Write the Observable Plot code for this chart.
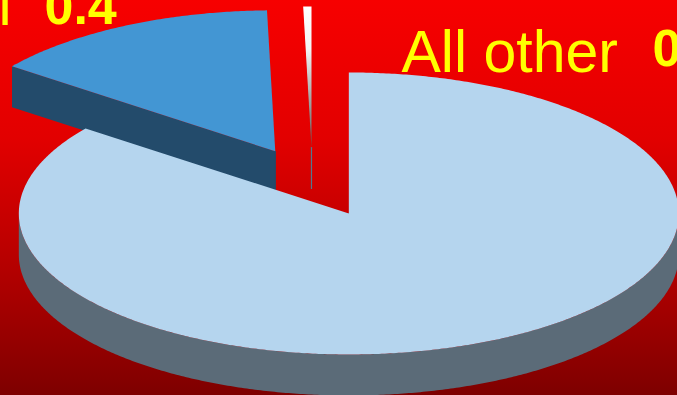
<!DOCTYPE html>
<html><head><meta charset="utf-8">
<script src="https://cdn.jsdelivr.net/npm/d3@7"></script>
<script src="https://cdn.jsdelivr.net/npm/@observablehq/plot@0.6"></script>
<style>
html,body{margin:0;padding:0;overflow:hidden;background:#800000;}
#chart svg{display:block;overflow:hidden;}
</style></head><body><div id="chart"></div>
<script>
// ---- data ----
const categories = ["All other", "Other fuels", "Oil"];
const values = [85.3, 14.3, 0.4];
const labelNames = ["Oil", "All other"];
const labelValues = ["0.4", "0"];

// ---- layout / style ----
const W = 677, H = 395;
const geom = {cx: 312, cy: 181.8, rx: 330, ry: 141, depth: 41, explode: 0.247};
const topColors = ["#b5d5ee", "#4396d3", "url(#sliverGrad)"];
const sideColors = ["#5b6b78", "#234b6b", "#4f7a90"];
const labelLayout = [
  {nameX: 11, nameY: 24, valueX: 44, valueY: 23, anchor: "end"},
  {nameX: 401, nameY: 71, valueX: 652, valueY: 65, anchor: "start"}
];
const font = "Liberation Sans, Arial, sans-serif";

const pie = d3.pie().sort(null).startAngle(0).endAngle(2 * Math.PI)(values);
const pt = (c, a, dz = 0) => [c[0] + geom.rx * Math.sin(a), c[1] - geom.ry * Math.cos(a) + dz];
function arcPts(c, a1, a2, dz = 0) {
  const n = Math.max(2, Math.ceil((a2 - a1) / (Math.PI / 360)));
  return d3.range(n + 1).map(i => pt(c, a1 + (a2 - a1) * i / n, dz));
}
const poly = ring => ({type: "Feature", geometry: {type: "Polygon", coordinates: [[...ring, ring[0]]]}});
const line = pts => ({type: "Feature", geometry: {type: "LineString", coordinates: pts}});

const slices = pie.map((p, i) => {
  const mid = (p.startAngle + p.endAngle) / 2;
  const c = [geom.cx + geom.explode * geom.rx * Math.sin(mid), geom.cy - geom.explode * geom.ry * Math.cos(mid)];
  return {i, a1: p.startAngle, a2: p.endAngle, c};
}).sort((a, b) => a.c[1] - b.c[1]);

const projection = {type: "identity", domain: {type: "MultiPoint", coordinates: [[0, 0], [W, H]]}, inset: 0};
const marks = [];
for (const s of slices) {
  const {c, a1, a2, i} = s;
  const d = geom.depth;
  // outer (front) wall
  const f1 = Math.max(a1, Math.PI / 2), f2 = Math.min(a2, 3 * Math.PI / 2);
  if (f2 > f1) {
    const ring = [...arcPts(c, f1, f2, 0), ...arcPts(c, f1, f2, d).reverse()];
    marks.push(Plot.geo([poly(ring)], {fill: sideColors[i]}));
  }
  // radial walls facing the viewer
  if (-Math.sin(a1) > 0.1) {
    marks.push(Plot.geo([poly([[c[0], c[1]], pt(c, a1), pt(c, a1, d), [c[0], c[1] + d]])], {fill: sideColors[i]}));
  }
  if (Math.sin(a2) > 0.1) {
    marks.push(Plot.geo([poly([[c[0], c[1]], pt(c, a2), pt(c, a2, d), [c[0], c[1] + d]])], {fill: sideColors[i]}));
  }
  // inner vertical edge
  marks.push(Plot.geo([line([[c[0], c[1]], [c[0], c[1] + d]])], {stroke: sideColors[i], strokeWidth: 1.2}));
  // top face
  marks.push(Plot.geo([poly([[c[0], c[1]], ...arcPts(c, a1, a2, 0)])], {fill: topColors[i]}));
}

const labels = labelNames.map((n, k) => ({name: n, value: labelValues[k], ...labelLayout[k]}));
for (const lab of labels) {
  marks.push(Plot.text([lab], {x: "nameX", y: "nameY", text: "name", textAnchor: lab.anchor, lineAnchor: "bottom",
    fill: "#ffff00", fontSize: 59, fontFamily: font}));
}
marks.push(Plot.text(labels, {x: "valueX", y: "valueY", text: "value", textAnchor: "start", lineAnchor: "bottom",
  fill: "#ffff00", fontSize: 52, fontWeight: "bold", fontFamily: font}));

const chart = Plot.plot({
  width: W, height: H,
  margin: 0,
  projection,
  style: {background: "linear-gradient(to bottom, #f70000 0%, #e20000 35%, #c00000 60%, #a00000 80%, #7e0000 100%)", overflow: "hidden"},
  marks
});
const defs = d3.select(chart).insert("defs", ":first-child");
const g = defs.append("linearGradient").attr("id", "sliverGrad").attr("x1", 0).attr("y1", 0).attr("x2", 0).attr("y2", 1);
g.append("stop").attr("offset", "0%").attr("stop-color", "#ffffff");
g.append("stop").attr("offset", "30%").attr("stop-color", "#f4f4f4");
g.append("stop").attr("offset", "100%").attr("stop-color", "#5a5a5a");
document.getElementById("chart").appendChild(chart);
</script></body></html>
